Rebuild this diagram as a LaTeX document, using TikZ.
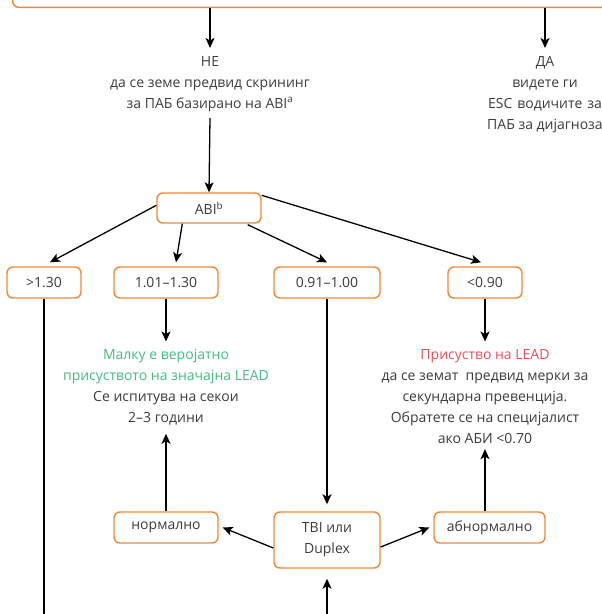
\documentclass[tikz,border=0pt]{standalone}
\usepackage{fontspec}
\setmainfont{Open Sans}
\usetikzlibrary{arrows.meta}
\definecolor{orng}{HTML}{F0883A}
\definecolor{txt}{HTML}{3C3C3C}
\definecolor{grn}{HTML}{45BC85}
\definecolor{rd}{HTML}{EE4D5A}
\tikzset{
  box/.style={draw=orng, line width=1.4pt, rounded corners=6pt, fill=white,
    text=txt, minimum height=31pt, inner sep=0pt, align=center,
    font=\fontsize{14}{21}\selectfont},
  lbl/.style={text=txt, align=center, inner sep=0pt,
    font=\fontsize{14}{21}\selectfont},
  arr/.style={line width=1.3pt, -{Stealth[length=10pt,width=9pt,inset=2.5pt]}},
  ln/.style={line width=1.3pt},
}
\begin{document}
\begin{tikzpicture}[x=1pt,y=-1pt]
\useasboundingbox (0,0) rectangle (602,614);
\clip (0,0) rectangle (602,614);
% partial top box
\node[box, minimum width=700pt, minimum height=60pt, anchor=south west] (top) at (12,8) {};
% text blocks
\node[lbl, anchor=north] (ne) at (210,56) {НЕ\\да се земе предвид скрининг\\за ПАБ базирано на ABI\textsuperscript{a}};
\node[lbl, anchor=north] (da) at (545,56) {ДА\\видете ги\\ESC\hspace{5pt}водичите\hspace{5pt}за\\ПАБ за дијагноза};
% ABI box
\node[box, minimum width=104pt, minimum height=30pt] (abi) at (209,208) {ABI\textsuperscript{b}};
% category boxes
\node[box, minimum width=74pt] (b1) at (44,282.5) {>1.30};
\node[box, minimum width=104pt] (b2) at (166,282.5) {1.01–1.30};
\node[box, minimum width=106pt] (b3) at (327,282.5) {0.91–1.00};
\node[box, minimum width=74pt] (b4) at (485,282.5) {<0.90};
% result texts
\node[lbl, anchor=north] (green) at (166,349.5) {\textcolor{grn}{Малку е веројатно}\\\textcolor{grn}{присуството на значајна LEAD}\\Се испитува на секои\\2–3 години};
\node[lbl, anchor=north] (red) at (485,349.5) {\textcolor{rd}{Присуство на LEAD}\\да се земат\ \ предвид мерки за\\секундарна превенција.\\Обратете се на специјалист\\ако АБИ <0.70};
% bottom boxes
\node[box, minimum width=104pt] (norm) at (166,527.5) {нормално};
\node[box, minimum width=106pt, minimum height=56pt] (tbi) at (327,540) {TBI или\\Duplex};
\node[box, minimum width=111pt] (abn) at (489.5,527.5) {абнормално};
\coordinate (b1end) at (44,614);
\coordinate (tbiin) at (327,614);
% connectors
\draw[arr] (top.south -| ne.north) -- ([yshift=8pt]ne.north);
\draw[arr] (top.south -| da.north) -- ([yshift=8pt]da.north);
\draw[arr] ([yshift=-6pt]ne.south) -- (abi.north);
\draw[arr] ([yshift=-13pt]abi.north west) -- ([xshift=6pt,yshift=4pt]b1.north);
\draw[arr] ([xshift=26pt]abi.south west) -- ([xshift=10pt,yshift=4pt]b2.north);
\draw[arr] ([xshift=-14pt,yshift=-1pt]abi.south east) -- ([yshift=4pt]b3.north);
\draw[arr] ([yshift=-3pt]abi.north east) -- ([xshift=-4pt,yshift=4pt]b4.north);
\draw[ln] (b1.south) -- (b1end);
\draw[arr] (b2.south) -- ([yshift=8pt]green.north);
\draw[arr] (b4.south) -- ([yshift=8pt]red.north);
\draw[arr] (b3.south) -- ([yshift=7pt]tbi.north);
\draw[arr] (norm.north) -- ([yshift=-8pt]green.south);
\draw[arr] (abn.north -| red.south) -- ([yshift=-5pt]red.south);
\draw[arr] ([yshift=-8pt]tbi.west) -- ([xshift=4pt]norm.east);
\draw[arr] ([yshift=-7pt]tbi.east) -- ([xshift=-4pt]abn.west);
\draw[arr] (tbiin) -- ([yshift=-10pt]tbi.south);
\end{tikzpicture}
\end{document}
